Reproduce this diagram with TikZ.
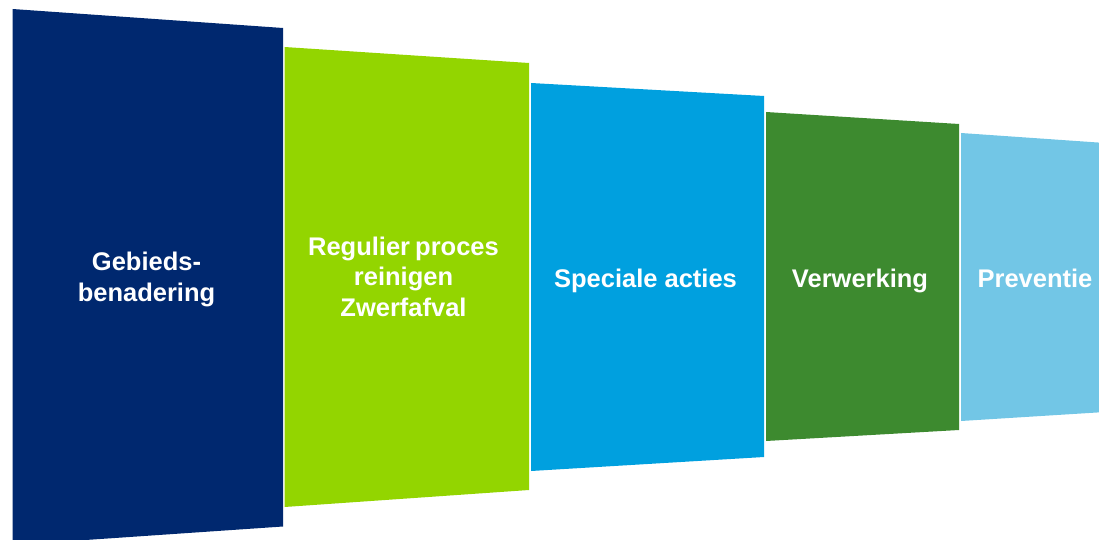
\documentclass[tikz,border=0pt]{standalone}
\usepackage{fontspec}
\setmainfont{Liberation Sans}
\definecolor{cDark}{HTML}{00286F}
\definecolor{cLime}{HTML}{93D500}
\definecolor{cBlue}{HTML}{00A0DF}
\definecolor{cGreen}{HTML}{3D8A2F}
\definecolor{cLight}{HTML}{72C6E6}
\tikzset{
  lbl/.style={text=white, font=\fontsize{25.5}{30.5}\selectfont\bfseries, align=center, inner sep=0pt, anchor=base},
}
\begin{document}
\begin{tikzpicture}[x=1pt,y=-1pt]
\useasboundingbox (0,0) rectangle (1099,540);
\fill[cDark]  (12.5,9) -- (283,28) -- (283,526.5) -- (12.5,545) -- cycle;
\fill[cLime]  (284.5,47) -- (529,63) -- (529,490) -- (284.5,507) -- cycle;
\fill[cBlue]  (531,83) -- (764,96) -- (764,457) -- (531,471) -- cycle;
\fill[cGreen] (766,112) -- (959,124) -- (959,430) -- (766,441) -- cycle;
\fill[cLight] (961,133) -- (1105,143) -- (1105,412) -- (961,421) -- cycle;
\node[lbl] (t1) at (146.5,301) {Gebieds-\\benadering};
\node[lbl] (t2) at (403.5,316) {Regulier\hspace{-2pt} proces\\reinigen\\Zwerfafval};
\node[lbl] (t3) at (645.5,287) {Speciale acties};
\node[lbl] (t4) at (860,287) {Verwerking};
\node[lbl] (t5) at (1035,287) {Preventie};
\end{tikzpicture}
\end{document}
